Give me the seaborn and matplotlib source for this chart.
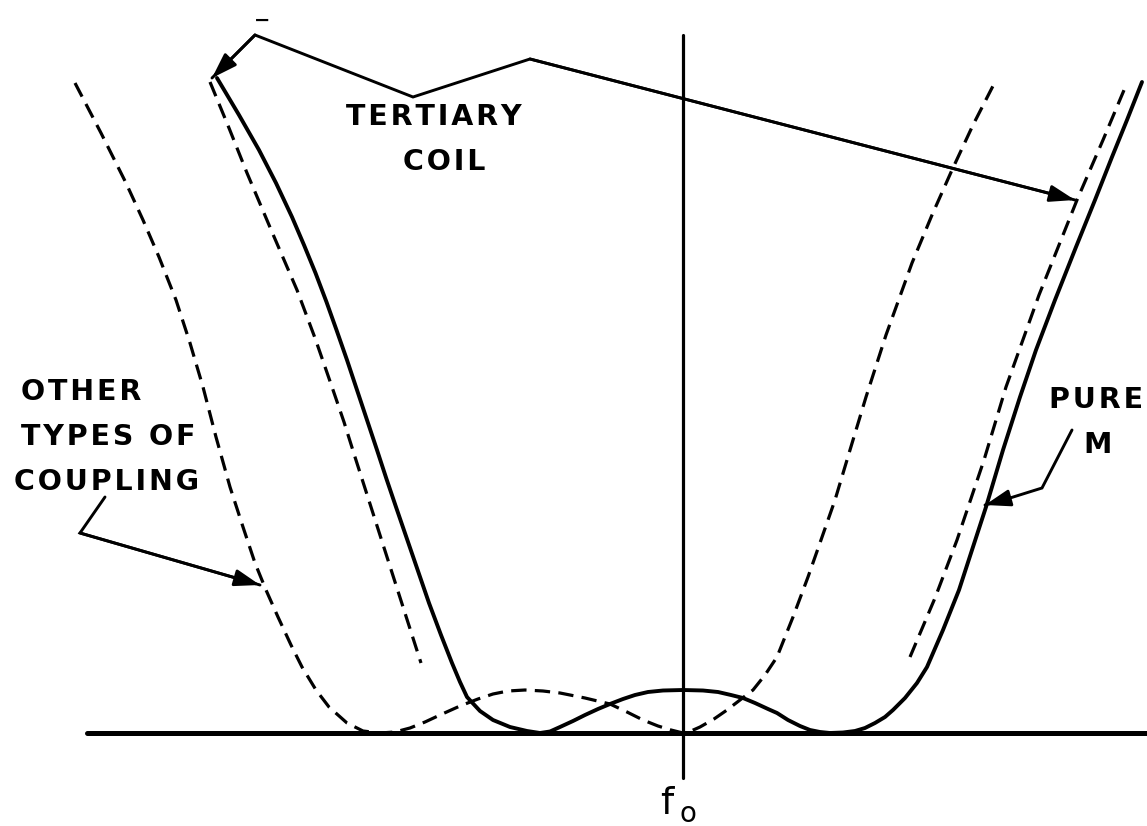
import matplotlib
matplotlib.use("Agg")
import numpy as np
import pandas as pd
import matplotlib.pyplot as plt
import seaborn as sns

# ---------------- data (frequency offset from f0, attenuation above baseline) ----------------
pure_m_freq = [-466, -444, -424, -407, -391, -379, -367.5, -356.5, -346.5, -336, -326, -316,
               -306, -296.5, -287, -270.5, -254, -242, -231, -223, -216, -203, -190, -173,
               -156, -143, -133, -123, -110, -98, -85, -73, -60, -48, -35, -20, 0,
               20, 35, 48, 60, 72, 85, 94, 105, 117, 127, 137, 147, 160, 172, 182,
               192, 202, 210, 222, 234, 244, 260, 276, 289, 303, 320, 337, 353, 372,
               393, 412, 429, 444, 459]
pure_m_att = [655, 618, 583, 550, 516, 488, 460, 431, 403, 373, 343, 313,
              283, 254, 226, 178, 130, 98, 70, 51, 36, 22, 13, 6,
              2, 0, 1.5, 6, 12, 18, 24, 29, 34, 38, 41, 42.5, 43,
              42.5, 41, 38, 35, 30, 24, 20, 13, 7, 3, 1, 0, 0.5, 2, 5,
              10, 16, 23, 35, 50, 66, 103, 143, 183, 226, 283, 336, 383, 433,
              486, 533, 576, 613, 651]

tertiary_left_freq = [-473, -454, -436, -411, -386, -368, -351, -339, -328, -312, -296, -279, -262]
tertiary_left_att = [651, 605, 560, 501, 443, 395, 346, 311, 276, 226, 176, 123, 70]
tertiary_right_freq = [227, 252, 274, 301, 323, 356, 394, 420, 444]
tertiary_right_att = [76, 135, 193, 273, 346, 438, 533, 593, 650]

other_freq = [-608, -582, -557, -540, -524, -507, -493, -480, -467, -453, -440, -428,
              -417, -405, -392, -381, -367, -354, -336, -320, -303, -288, -273, -258,
              -243, -223, -205, -190, -175, -158, -140, -123, -98, -73, -56, -40, -25,
              -12, 0, 8, 17, 31, 44, 57, 70, 82, 94, 110, 125, 138, 152, 167, 183,
              203, 229, 249, 269, 290, 312]
other_att = [650, 600, 550, 513, 476, 433, 390, 346, 296, 246, 206, 170,
             143, 116, 88, 66, 43, 26, 10, 2, 0, 1, 5, 11,
             18, 27, 34, 39, 42, 43, 42, 40, 35, 29, 21, 13, 7,
             3, 0, 2, 6, 14, 23, 33, 43, 58, 76, 116, 156, 193, 233, 283, 336,
             398, 470, 518, 563, 608, 651]

labels_tertiary = ["TERTIARY", "COIL"]
labels_other = ["OTHER", "TYPES OF", "COUPLING"]
labels_pure = ["PURE", "M"]
center_label = ("f", "o")

# ---------------- layout ----------------
W, H = 1147, 826
X0, Y0 = 683, 733          # pixel position of f0 / baseline


def px(x, y):
    return x - X0, Y0 - y


sns.set_style("white")
plt.rcParams["font.family"] = ["DejaVu Sans"]
plt.rcParams["text.color"] = "black"

fig = plt.figure(figsize=(W / 100, H / 100), dpi=100)
ax = fig.add_axes([0, 0, 1, 1])
ax.set_xlim(-X0, W - X0)
ax.set_ylim(Y0 - H, Y0)
ax.axis("off")

frames = [
    pd.DataFrame({"freq": pure_m_freq, "att": pure_m_att, "seg": "pure"}),
    pd.DataFrame({"freq": tertiary_left_freq, "att": tertiary_left_att, "seg": "tl"}),
    pd.DataFrame({"freq": tertiary_right_freq, "att": tertiary_right_att, "seg": "tr"}),
    pd.DataFrame({"freq": other_freq, "att": other_att, "seg": "other"}),
]
df = pd.concat(frames, ignore_index=True)

dash = (0, (4.8, 2.6))
n0 = len(ax.lines)
sns.lineplot(data=df[df.seg == "pure"], x="freq", y="att", sort=False, estimator=None,
             color="black", linewidth=2.8, ax=ax, legend=False)
for seg in ["tl", "tr", "other"]:
    sns.lineplot(data=df[df.seg == seg], x="freq", y="att", sort=False, estimator=None,
                 color="black", linewidth=2.3, ax=ax, legend=False)
for i, ln in enumerate(ax.lines[n0:]):
    ln.set_solid_capstyle("round")
    ln.set_solid_joinstyle("round")
    if i > 0:
        ln.set_linestyle(dash)

# baseline and f0 line
ax.axhline(0, xmin=87 / W, xmax=1.0, color="black", linewidth=3.6)
ax.axvline(0, ymin=(H - 778) / H, ymax=(H - 35) / H, color="black", linewidth=2.3)

# ---------------- annotations ----------------
def polyline_arrow(points, head_start=False, head_end=True, lw=2.1):
    pts = [px(*p) for p in points]
    xs, ys = zip(*pts)
    ax.plot(xs, ys, color="black", linewidth=lw, solid_joinstyle="miter")
    style = dict(arrowstyle="-|>,head_length=0.9,head_width=0.3", color="black",
                 linewidth=lw, shrinkA=0, shrinkB=0, mutation_scale=17)
    if head_end:
        ax.annotate("", xy=pts[-1], xytext=pts[-2], arrowprops=style)
    if head_start:
        ax.annotate("", xy=pts[0], xytext=pts[1], arrowprops=style)


polyline_arrow([(212, 78), (255, 35), (413, 97), (530, 59), (1075, 200)],
               head_start=True, head_end=True)
polyline_arrow([(105, 497), (80, 533), (260, 585)])
polyline_arrow([(1072, 430), (1042, 488), (1010, 498), (985, 505)])

SP = "\u200a"


def spaced(s):
    return SP.join(s)


fs = 20.5
kw = dict(fontsize=fs, fontweight="bold", va="center", color="black")
ax.text(*px(434, 117), spaced(labels_tertiary[0]), ha="center", **kw)
ax.text(*px(444, 162), spaced(labels_tertiary[1]), ha="center", **kw)
for (x, y), s in zip([(21, 392), (21, 437), (14, 482)], labels_other):
    ax.text(*px(x, y), spaced(s), ha="left", **kw)
ax.text(*px(1096, 400), spaced(labels_pure[0]), ha="center", **kw)
ax.text(*px(1098, 445), labels_pure[1], ha="center", **kw)
ax.text(*px(667, 804), center_label[0], ha="center", va="center", fontsize=27, color="black")
ax.text(*px(688, 814), center_label[1], ha="center", va="center", fontsize=20, color="black")
ax.text(*px(262, 20), "\u2212", ha="center", va="center", fontsize=14, fontweight="bold",
        color="black")

fig.savefig("out.png", dpi=100, facecolor="white")
